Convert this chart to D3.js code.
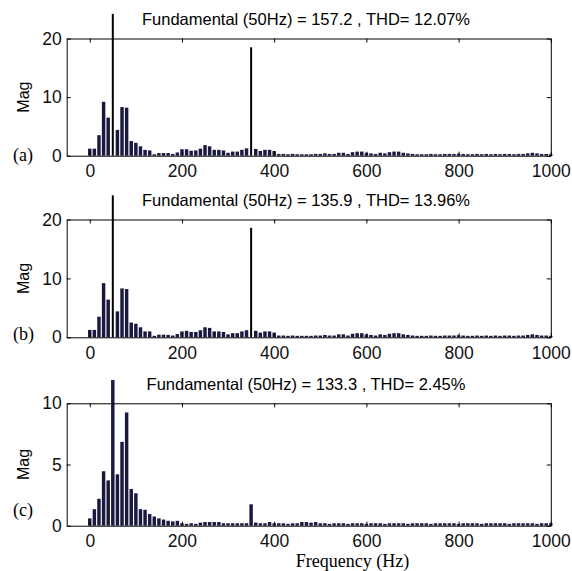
<!DOCTYPE html>
<html>
<head>
<meta charset="utf-8">
<script src="https://cdn.jsdelivr.net/npm/d3@7"></script>
<style>
body { margin: 0; background: #fff; }
svg { display: block; }
</style>
</head>
<body>
<script>
// harmonic frequencies (Hz)
var freqs = [0,10,20,30,40,50,60,70,80,90,100,110,120,130,140,150,160,170,180,190,
  200,210,220,230,240,250,260,270,280,290,300,310,320,330,340,350,360,370,380,390,
  400,410,420,430,440,450,460,470,480,490,500,510,520,530,540,550,560,570,580,590,
  600,610,620,630,640,650,660,670,680,690,700,710,720,730,740,750,760,770,780,790,
  800,810,820,830,840,850,860,870,880,890,900,910,920,930,940,950,960,970,980,990,1000];

// (a) magnitudes, spikes at 50 and 350 drawn separately
var magA = [1.2,1.2,3.5,9.2,6.5,0,4.4,8.3,8.2,2.5,2.2,1.6,1.0,0.9,0.25,0.45,0.45,0.45,0.3,0.55,
  1.1,1.1,0.85,0.9,1.2,1.8,1.6,1.0,1.0,0.9,0.5,0.7,0.7,1.0,1.25,0,1.15,0.8,1.0,1.0,
  0.8,0.3,0.3,0.25,0.3,0.25,0.25,0.25,0.25,0.3,0.3,0.4,0.3,0.3,0.5,0.5,0.3,0.6,0.7,0.7,
  0.5,0.4,0.3,0.5,0.4,0.6,0.7,0.7,0.5,0.4,0.3,0.25,0.25,0.25,0.3,0.25,0.25,0.3,0.3,0.3,
  0.35,0.3,0.25,0.25,0.3,0.25,0.3,0.25,0.3,0.25,0.3,0.3,0.25,0.3,0.3,0.4,0.5,0.4,0.3,0.3,0.25];
var spikeFreqA = [50, 350];
var spikeMagA = [24.2, 18.5];

// (b)
var magB = [1.25,1.25,3.5,9.2,6.4,0,4.4,8.3,8.2,2.5,2.3,1.7,1.0,1.0,0.25,0.45,0.45,0.4,0.3,0.55,
  1.0,1.1,0.9,0.9,1.2,1.7,1.6,1.0,1.0,0.9,0.5,0.7,0.7,1.0,1.2,0,1.1,0.8,1.0,1.0,
  0.8,0.3,0.3,0.25,0.3,0.25,0.25,0.25,0.25,0.3,0.3,0.4,0.3,0.3,0.5,0.5,0.3,0.6,0.7,0.7,
  0.5,0.4,0.3,0.5,0.4,0.6,0.7,0.7,0.5,0.4,0.3,0.25,0.25,0.25,0.3,0.25,0.25,0.3,0.3,0.3,
  0.35,0.3,0.25,0.25,0.3,0.25,0.3,0.25,0.3,0.25,0.3,0.3,0.25,0.3,0.3,0.4,0.5,0.4,0.3,0.3,0.25];
var spikeFreqB = [50, 350];
var spikeMagB = [24.1, 18.6];

// (c)
var magC = [0.6,1.35,2.2,4.45,3.7,11.9,4.2,6.85,9.25,3.0,2.65,1.35,1.3,0.95,0.75,0.6,0.5,0.4,0.35,0.4,
  0.2,0.15,0.2,0.15,0.25,0.3,0.3,0.3,0.3,0.2,0.2,0.2,0.2,0.2,0.2,1.75,0.25,0.2,0.2,0.3,
  0.2,0.2,0.2,0.15,0.2,0.2,0.3,0.3,0.25,0.3,0.2,0.2,0.15,0.2,0.2,0.2,0.15,0.2,0.2,0.2,
  0.15,0.2,0.2,0.2,0.15,0.2,0.2,0.2,0.2,0.15,0.2,0.2,0.2,0.2,0.15,0.2,0.2,0.2,0.2,0.2,
  0.15,0.2,0.2,0.2,0.2,0.15,0.2,0.2,0.2,0.2,0.2,0.15,0.2,0.2,0.2,0.2,0.2,0.15,0.2,0.2,0.2];
var spikeFreqC = [];
var spikeMagC = [];

var fundamentals = ["157.2", "135.9", "133.3"];
var thds = ["12.07%", "13.96%", "2.45%"];
var panelLabels = ["(a)", "(b)", "(c)"];
var xTicks = [0, 200, 400, 600, 800, 1000];
var yTicksAB = [0, 10, 20];
var yTicksC = [0, 5, 10];

var w = 572, h = 571;
var sans = "'Liberation Sans', Arial, sans-serif";
var serif = "'Liberation Serif', 'Times New Roman', serif";
var barColor = "#1a1a40";

var svg = d3.select("body").append("svg")
  .attr("width", w).attr("height", h);

var x = d3.scaleLinear().domain([-50, 1000]).range([66.7, 550.8]);

var panels = [
  {top: 38.5, bottom: 155.7, ymax: 20, yticks: yTicksAB, mag: magA, sf: spikeFreqA, sm: spikeMagA, titleY: 25, labY: 161},
  {top: 219.5, bottom: 337.3, ymax: 20, yticks: yTicksAB, mag: magB, sf: spikeFreqB, sm: spikeMagB, titleY: 206, labY: 340},
  {top: 403.3, bottom: 525.7, ymax: 10, yticks: yTicksC, mag: magC, sf: spikeFreqC, sm: spikeMagC, titleY: 390, labY: 516}
];

panels.forEach(function(p, i) {
  var y = d3.scaleLinear().domain([0, p.ymax]).range([p.bottom, p.top]);
  var g = svg.append("g");
  var bw = x(7.5) - x(0);

  g.selectAll("rect.bar")
    .data(freqs.map(function(f, j) { return {f: f, v: p.mag[j]}; }).filter(function(d) { return d.v > 0; }))
    .enter().append("rect")
    .attr("class", "bar")
    .attr("x", function(d) { return x(d.f) - bw / 2; })
    .attr("y", function(d) { return y(d.v); })
    .attr("width", bw)
    .attr("height", function(d) { return y(0) - y(d.v); })
    .attr("fill", barColor);

  g.selectAll("line.spike")
    .data(p.sf.map(function(f, j) { return {f: f, v: p.sm[j]}; }))
    .enter().append("line")
    .attr("class", "spike")
    .attr("x1", function(d) { return x(d.f); })
    .attr("x2", function(d) { return x(d.f); })
    .attr("y1", y(0))
    .attr("y2", function(d) { return y(d.v); })
    .attr("stroke", "#000")
    .attr("stroke-width", 2);

  // axes (ticks point inward, box all round)
  var bottom = g.append("g").attr("transform", "translate(0," + p.bottom + ")")
    .call(d3.axisBottom(x).tickValues(xTicks).tickFormat(d3.format("d"))
      .tickSizeInner(-4).tickSizeOuter(0).tickPadding(9));
  var top = g.append("g").attr("transform", "translate(0," + p.top + ")")
    .call(d3.axisTop(x).tickValues(xTicks).tickSizeInner(-4).tickSizeOuter(0).tickFormat(""));
  var left = g.append("g").attr("transform", "translate(" + x(-50) + ",0)")
    .call(d3.axisLeft(y).tickValues(p.yticks).tickSizeInner(-4).tickSizeOuter(0).tickPadding(5));
  var right = g.append("g").attr("transform", "translate(" + x(1000) + ",0)")
    .call(d3.axisRight(y).tickValues(p.yticks).tickSizeInner(-4).tickSizeOuter(0).tickFormat(""));

  [bottom, top, left, right].forEach(function(a) {
    a.selectAll("text").attr("font-family", sans).attr("font-size", 17.5).attr("fill", "#111");
    a.selectAll("path, line").attr("stroke", "#000");
  });

  g.append("text")
    .attr("x", 306).attr("y", p.titleY)
    .attr("text-anchor", "middle")
    .attr("font-family", sans).attr("font-size", 16.5)
    .text("Fundamental (50Hz) = " + fundamentals[i] + " , THD= " + thds[i]);

  g.append("text")
    .attr("transform", "translate(29," + ((p.top + p.bottom) / 2) + ") rotate(-90)")
    .attr("text-anchor", "middle")
    .attr("font-family", sans).attr("font-size", 16)
    .text("Mag");

  g.append("text")
    .attr("x", 13).attr("y", p.labY)
    .attr("font-family", serif).attr("font-size", 18)
    .text(panelLabels[i]);
});

svg.append("text")
  .attr("x", 352.5).attr("y", 567)
  .attr("text-anchor", "middle")
  .attr("font-family", serif).attr("font-size", 18)
  .text("Frequency (Hz)");
</script>
</body>
</html>
